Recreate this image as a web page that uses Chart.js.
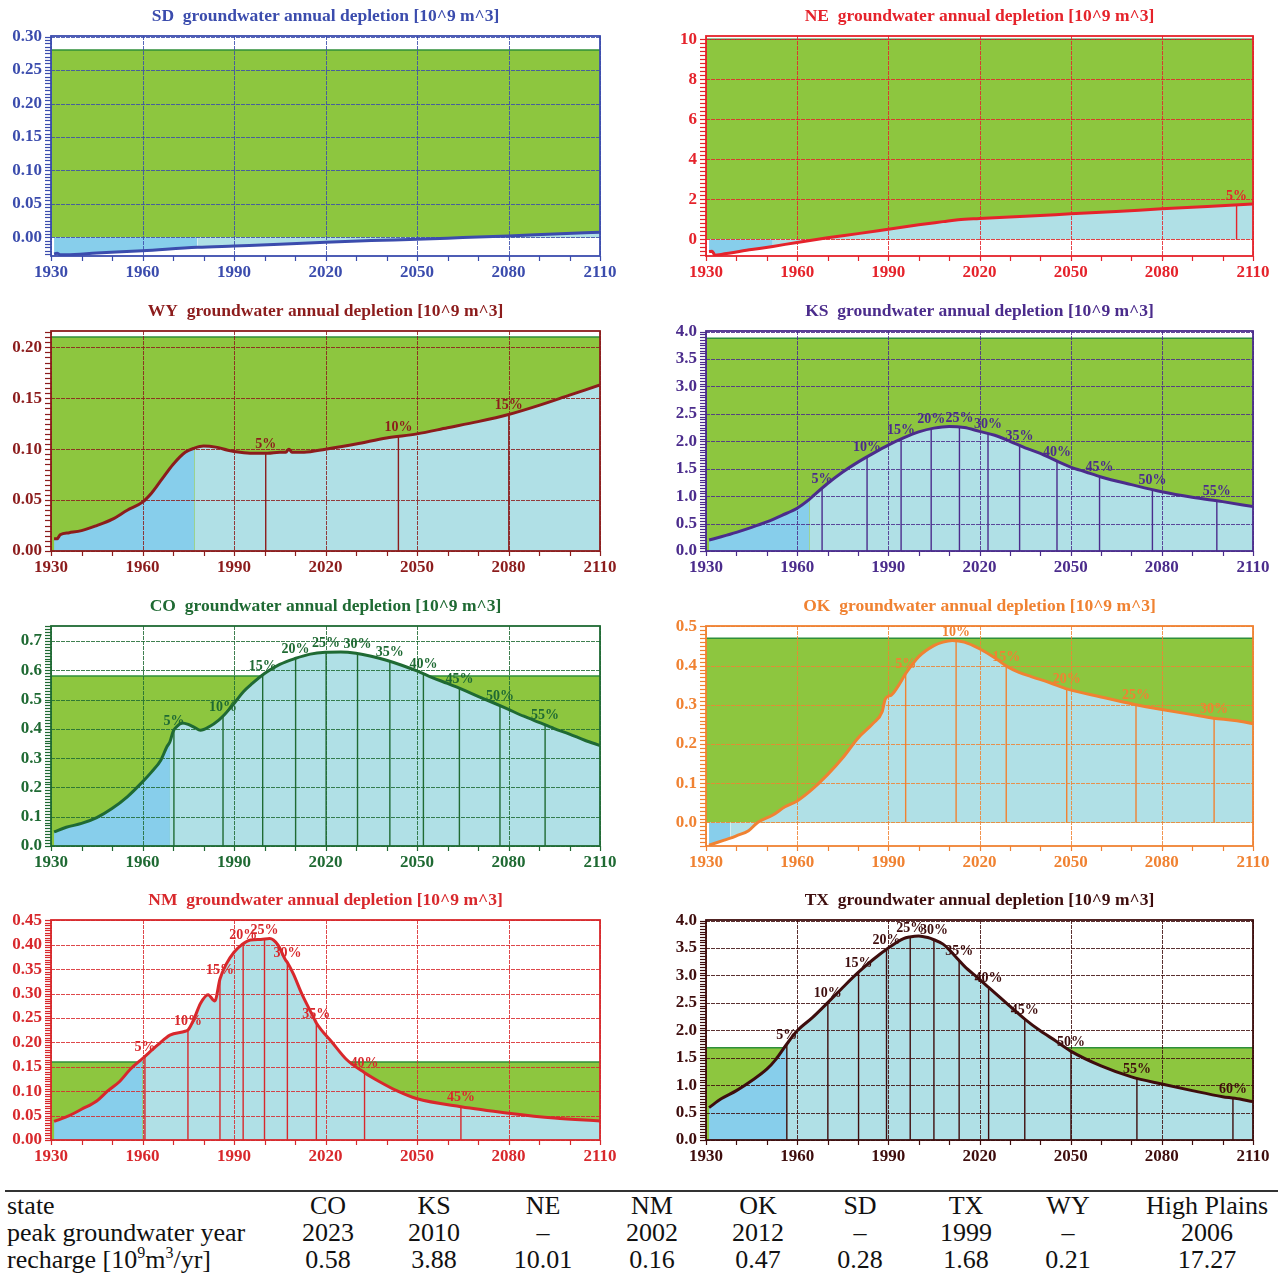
<!DOCTYPE html>
<html>
<head>
<meta charset="utf-8">
<script src="https://cdn.jsdelivr.net/npm/chart.js@4.4.0/dist/chart.umd.min.js"></script>
<style>
  body { margin: 0; background: #fff; width: 1285px; height: 1277px; position: relative; overflow: hidden; }
  canvas { position: absolute; }
  .rule { position: absolute; left: 5px; width: 1273px; top: 1190px; height: 2px; background: #333; }
  .cell { position: absolute; font: 26px 'Liberation Serif', serif; color: #111; white-space: nowrap; transform: translate(-50%, -50%); }
  .cell.first { transform: translate(0, -50%); }
  sup { font-size: 16px; vertical-align: 10px; line-height: 0; }
</style>
</head>
<body>
<div class="rule"></div>
<script>
// ---- data ----
const X_TICKS = [1930, 1960, 1990, 2020, 2050, 2080, 2110];

const TABLE_STATES = ['CO', 'KS', 'NE', 'NM', 'OK', 'SD', 'TX', 'WY', 'High Plains'];
const PEAK_YEARS = ['2023', '2010', '\u2013', '2002', '2012', '\u2013', '1999', '\u2013', '2006'];
const RECHARGE = [0.58, 3.88, 10.01, 0.16, 0.47, 0.28, 1.68, 0.21, 17.27];

const SD_YEARS  = [1931, 1932, 1933, 1935, 1945, 1960, 1978, 1990, 2005, 2020, 2035, 2050, 2065, 2080, 2095, 2110];
const SD_VALUES = [-0.025, -0.024, -0.026, -0.026, -0.0235, -0.020, -0.015, -0.013, -0.0105, -0.0075, -0.005, -0.003, -0.0005, 0.002, 0.0048, 0.0075];
const SD_PCT_YEARS = [];

const NE_YEARS  = [1931, 1932, 1933, 1935, 1945, 1952, 1960, 1970, 1980, 1990, 2000, 2008, 2013, 2020, 2035, 2050, 2065, 2080, 2095, 2110];
const NE_VALUES = [-0.62, -0.6, -0.8, -0.76, -0.52, -0.36, -0.16, 0.07, 0.28, 0.5, 0.72, 0.88, 0.98, 1.04, 1.15, 1.27, 1.39, 1.52, 1.64, 1.76];
const NE_PCT_YEARS = [2104.6];

const WY_YEARS  = [1931, 1932, 1933, 1936, 1940, 1945, 1950, 1955, 1960, 1963, 1966, 1970, 1974, 1977, 1980, 1984, 1988, 1992, 1996, 2001, 2005, 2007, 2008, 2009, 2013, 2020, 2030, 2040, 2050, 2060, 2070, 2080, 2090, 2100, 2110];
const WY_VALUES = [0.012, 0.012, 0.016, 0.018, 0.020, 0.025, 0.031, 0.040, 0.048, 0.057, 0.069, 0.085, 0.097, 0.101, 0.103, 0.102, 0.099, 0.097, 0.096, 0.096, 0.097, 0.097, 0.100, 0.097, 0.097, 0.100, 0.105, 0.111, 0.115, 0.121, 0.127, 0.134, 0.143, 0.153, 0.163];
const WY_PCT_YEARS = [2000.4, 2043.9, 2080.1];

const KS_YEARS  = [1931, 1935, 1940, 1945, 1950, 1955, 1960, 1964, 1965, 1970, 1975, 1980, 1985, 1990, 1995, 2000, 2005, 2010, 2015, 2020, 2025, 2030, 2035, 2040, 2045, 2050, 2055, 2060, 2070, 2080, 2090, 2100, 2110];
const KS_VALUES = [0.2, 0.26, 0.34, 0.43, 0.53, 0.65, 0.78, 0.94, 0.99, 1.23, 1.44, 1.62, 1.78, 1.93, 2.06, 2.17, 2.24, 2.27, 2.25, 2.18, 2.11, 2.0, 1.88, 1.78, 1.65, 1.53, 1.44, 1.35, 1.21, 1.08, 0.98, 0.9, 0.81];
const KS_PCT_YEARS = [1968.2, 1983.0, 1994.2, 2004.1, 2013.4, 2022.8, 2033.2, 2045.5, 2059.5, 2076.9, 2098.1];

const CO_YEARS  = [1931, 1935, 1940, 1945, 1950, 1955, 1960, 1963, 1966, 1968, 1969, 1970, 1971, 1972, 1973, 1975, 1977, 1979, 1982, 1985, 1987, 1990, 1993, 1996, 2000, 2005, 2010, 2015, 2020, 2025, 2030, 2035, 2040, 2045, 2050, 2055, 2060, 2065, 2070, 2075, 2080, 2085, 2090, 2095, 2100, 2105, 2110];
const CO_VALUES = [0.048, 0.064, 0.077, 0.097, 0.128, 0.168, 0.219, 0.253, 0.293, 0.339, 0.356, 0.39, 0.405, 0.415, 0.42, 0.415, 0.405, 0.395, 0.408, 0.43, 0.45, 0.486, 0.526, 0.555, 0.589, 0.62, 0.64, 0.655, 0.661, 0.662, 0.658, 0.648, 0.634, 0.617, 0.598, 0.575, 0.555, 0.534, 0.511, 0.489, 0.466, 0.443, 0.422, 0.401, 0.382, 0.361, 0.343];
const CO_PCT_YEARS = [1970.3, 1986.4, 1999.4, 2010.2, 2020.2, 2030.5, 2041.1, 2052.1, 2063.9, 2077.2, 2092.0];

const OK_YEARS  = [1931, 1936, 1938, 1940, 1944, 1947, 1952, 1956, 1960, 1965, 1970, 1975, 1980, 1985, 1988, 1989, 1991, 1993, 1996, 2000, 2005, 2008, 2011, 2015, 2020, 2025, 2029, 2033, 2037, 2043, 2049, 2060, 2071, 2080, 2090, 2097, 2104, 2110];
const OK_VALUES = [-0.058, -0.045, -0.04, -0.034, -0.021, 0.0, 0.019, 0.04, 0.055, 0.085, 0.122, 0.165, 0.215, 0.253, 0.283, 0.315, 0.325, 0.345, 0.383, 0.423, 0.451, 0.46, 0.464, 0.46, 0.443, 0.42, 0.398, 0.383, 0.372, 0.357, 0.34, 0.32, 0.301, 0.288, 0.275, 0.266, 0.26, 0.252];
const OK_PCT_YEARS = [1995.7, 2012.3, 2028.8, 2048.7, 2071.5, 2097.2];

const NM_YEARS  = [1931, 1936, 1940, 1945, 1948.5, 1952.5, 1956, 1960, 1965, 1969, 1974, 1975, 1977, 1979, 1981.5, 1983.7, 1985.4, 1987.4, 1990, 1992.5, 1995.4, 1998.8, 2001.7, 2004.4, 2006.8, 2007.6, 2009.5, 2012.2, 2016.2, 2017, 2022.2, 2026.9, 2032.8, 2037.6, 2043.7, 2049.8, 2064.4, 2080, 2095, 2110];
const NM_VALUES = [0.038, 0.05, 0.063, 0.08, 0.1, 0.12, 0.145, 0.167, 0.195, 0.215, 0.223, 0.226, 0.25, 0.28, 0.298, 0.285, 0.33, 0.36, 0.385, 0.4, 0.41, 0.411, 0.413, 0.40, 0.37, 0.363, 0.34, 0.30, 0.25, 0.24, 0.2, 0.165, 0.138, 0.12, 0.1, 0.085, 0.068, 0.055, 0.045, 0.039];
const NM_PCT_YEARS = [1960.8, 1974.9, 1985.4, 1993.0, 2000.0, 2007.5, 2017.0, 2032.8, 2064.4];

const TX_YEARS  = [1931, 1935, 1940, 1945, 1950, 1953, 1956.6, 1960, 1965, 1970, 1975, 1980, 1985, 1990, 1995, 1997, 2000, 2003, 2005, 2008, 2010, 2013, 2015, 2020, 2023, 2030, 2035, 2040, 2045, 2050, 2060, 2070, 2080, 2090, 2100, 2104, 2110];
const TX_VALUES = [0.59, 0.75, 0.9, 1.08, 1.29, 1.47, 1.75, 1.99, 2.23, 2.5, 2.78, 3.05, 3.29, 3.5, 3.67, 3.70, 3.72, 3.69, 3.65, 3.57, 3.47, 3.29, 3.17, 2.93, 2.78, 2.44, 2.2, 1.99, 1.81, 1.62, 1.35, 1.15, 1.02, 0.9, 0.79, 0.76, 0.7];
const TX_PCT_YEARS = [1956.6, 1970.1, 1980.2, 1989.4, 1997.2, 2005.0, 2013.3, 2023.0, 2034.9, 2050.1, 2071.8, 2103.4];

// last year of the darker (historical) blue fill
const HIST_END = { SD: 1978, NE: 1952, WY: 1977, KS: 1964, CO: 1969, OK: 1938, NM: 1960, TX: 1956.6 };

// ---- layout / styling ----
const GREEN = '#8dc63f', GREEN_EDGE = '#2f8f3a', DARK_BLUE = '#87ceeb', LIGHT_BLUE = '#b0e0e6';
const FONT = 'Liberation Serif';
const ROW_TOPS = [0, 295, 590, 884];

const PANELS = [
  { id: 'SD', col: 0, row: 0, color: '#3b4cad', years: SD_YEARS, values: SD_VALUES, pct: SD_PCT_YEARS, min: -0.028, max: 0.301, step: 0.05, minor: 0.005, dec: 2 },
  { id: 'NE', col: 1, row: 0, color: '#e5232b', years: NE_YEARS, values: NE_VALUES, pct: NE_PCT_YEARS, min: -0.84, max: 10.17, step: 2, minor: 0.2, dec: 0 },
  { id: 'WY', col: 0, row: 1, color: '#8c1c1c', years: WY_YEARS, values: WY_VALUES, pct: WY_PCT_YEARS, min: 0, max: 0.216, step: 0.05, minor: 0.005, dec: 2 },
  { id: 'KS', col: 1, row: 1, color: '#4b2c8c', years: KS_YEARS, values: KS_VALUES, pct: KS_PCT_YEARS, min: 0, max: 4.01, step: 0.5, minor: 0.05, dec: 1 },
  { id: 'CO', col: 0, row: 2, color: '#1f6a33', years: CO_YEARS, values: CO_VALUES, pct: CO_PCT_YEARS, min: 0, max: 0.751, step: 0.1, minor: 0.01, dec: 1 },
  { id: 'OK', col: 1, row: 2, color: '#f08232', years: OK_YEARS, values: OK_VALUES, pct: OK_PCT_YEARS, min: -0.06, max: 0.501, step: 0.1, minor: 0.01, dec: 1 },
  { id: 'NM', col: 0, row: 3, color: '#d8282c', years: NM_YEARS, values: NM_VALUES, pct: NM_PCT_YEARS, min: 0, max: 0.451, step: 0.05, minor: 0.005, dec: 2 },
  { id: 'TX', col: 1, row: 3, color: '#3e0d0d', years: TX_YEARS, values: TX_VALUES, pct: TX_PCT_YEARS, min: 0, max: 4.01, step: 0.5, minor: 0.05, dec: 1 }
];

function valueAt(xs, ys, x) {
  for (let i = 1; i < xs.length; i++) {
    if (x <= xs[i]) {
      const t = (x - xs[i - 1]) / (xs[i] - xs[i - 1]);
      return ys[i - 1] + t * (ys[i] - ys[i - 1]);
    }
  }
  return ys[ys.length - 1];
}

function tickList(min, max, step) {
  const out = [];
  for (let k = Math.ceil(min / step - 1e-9); k * step <= max + 1e-9; k++) out.push(+(k * step).toFixed(6));
  return out;
}

function isMultiple(v, step) {
  const r = v / step;
  return Math.abs(r - Math.round(r)) < 1e-6;
}

function alpha(hex, a) {
  const n = parseInt(hex.slice(1), 16);
  return 'rgba(' + (n >> 16) + ',' + ((n >> 8) & 255) + ',' + (n & 255) + ',' + a + ')';
}

// grid lines over the fills, tick ladders on both axes
const axesDecor = {
  id: 'axesDecor',
  afterDatasetsDraw(chart, args, opts) {
    const ctx = chart.ctx, a = chart.chartArea;
    const xs = chart.scales.x, ys = chart.scales.y;
    const seg = (x1, y1, x2, y2) => { ctx.beginPath(); ctx.moveTo(x1, y1); ctx.lineTo(x2, y2); ctx.stroke(); };
    ctx.save();
    ctx.lineWidth = 1;
    ctx.strokeStyle = opts.grid;
    ctx.setLineDash([4, 1]);
    xs.ticks.forEach(t => {
      if (!X_TICKS.includes(t.value)) return;
      const px = Math.round(xs.getPixelForValue(t.value)) + 0.5;
      seg(px, a.top, px, a.bottom);
    });
    ys.ticks.forEach(t => {
      if (!isMultiple(t.value, opts.step) || t.value < 0) return;
      const py = Math.round(ys.getPixelForValue(t.value)) + 0.5;
      seg(a.left, py, a.right, py);
    });
    ctx.setLineDash([]);
    ctx.strokeStyle = opts.color;
    ctx.lineWidth = 1.2;
    xs.ticks.forEach(t => {
      const px = Math.round(xs.getPixelForValue(t.value)) + 0.5;
      seg(px, a.bottom, px, a.bottom + 5);
    });
    ys.ticks.forEach(t => {
      const py = Math.round(ys.getPixelForValue(t.value)) + 0.5;
      seg(a.left - 6, py, a.left, py);
    });
    ctx.restore();
  }
};

// frame around the plot + percentage labels on top of the vertical lines
const overlay = {
  id: 'overlay',
  afterDraw(chart, args, opts) {
    const ctx = chart.ctx, a = chart.chartArea;
    ctx.save();
    ctx.strokeStyle = opts.color;
    ctx.lineWidth = 1.8;
    ctx.strokeRect(a.left, a.top, a.right - a.left, a.bottom - a.top);
    ctx.font = 'bold 14px "' + FONT + '"';
    ctx.fillStyle = opts.color;
    ctx.textAlign = 'center';
    ctx.textBaseline = 'bottom';
    chart.data.datasets.forEach((ds, i) => {
      if (!ds.pctLabel) return;
      const top = chart.getDatasetMeta(i).data[1];
      ctx.fillText(ds.pctLabel, top.x, top.y - 2);
    });
    ctx.restore();
  }
};

PANELS.forEach(p => {
  const canvas = document.createElement('canvas');
  canvas.width = 640;
  canvas.height = 295;
  canvas.style.left = (p.col ? 645 : 0) + 'px';
  canvas.style.top = ROW_TOPS[p.row] + 'px';
  document.body.appendChild(canvas);

  const recharge = RECHARGE[TABLE_STATES.indexOf(p.id)];
  const split = HIST_END[p.id];
  const pts = p.years.map((x, i) => ({ x: x, y: p.values[i] }));

  const datasets = [
    { data: pts, borderColor: p.color, borderWidth: 3, pointRadius: 0, fill: false,
      cubicInterpolationMode: 'monotone', order: 0 },
    ...p.pct.map((yr, i) => ({
      data: [{ x: yr, y: 0 }, { x: yr, y: valueAt(p.years, p.values, yr) }],
      borderColor: p.color, borderWidth: 1.4, pointRadius: 0, fill: false, order: 1,
      pctLabel: ((i + 1) * 5) + '%'
    })),
    { data: pts, borderWidth: 0, borderColor: 'rgba(0,0,0,0)', pointRadius: 0, fill: 'origin',
      cubicInterpolationMode: 'monotone', backgroundColor: LIGHT_BLUE, order: 2,
      segment: { backgroundColor: c => (c.p0.parsed.x < split ? DARK_BLUE : LIGHT_BLUE) } },
    { data: [{ x: 1930, y: recharge }, { x: 2110, y: recharge }], borderColor: GREEN_EDGE, borderWidth: 1.5,
      backgroundColor: GREEN, fill: 'origin', pointRadius: 0, order: 3 }
  ];

  const xTicks = tickList(1930, 2110, 10);
  const yTicks = tickList(p.min, p.max, p.minor);
  const tickFont = { family: FONT, size: 17, weight: 'bold' };
  const hidden = 'rgba(0,0,0,0)';

  new Chart(canvas, {
    type: 'line',
    data: { datasets: datasets },
    options: {
      responsive: false,
      animation: false,
      events: [],
      layout: { padding: { top: 0, right: p.col ? 32 : 40, bottom: 0, left: 0 } },
      plugins: {
        legend: { display: false },
        tooltip: { enabled: false },
        title: {
          display: true, fullSize: false, color: p.color,
          text: p.id + '  groundwater annual depletion [10^9 m^3]',
          font: { family: FONT, size: 17.5, weight: 'bold' },
          padding: { top: 6, bottom: 9 }
        },
        axesDecor: { color: p.color, grid: alpha(p.color, 0.85), step: p.step },
        overlay: { color: p.color }
      },
      scales: {
        x: {
          type: 'linear', min: 1930, max: 2110,
          afterBuildTicks: s => { s.ticks = xTicks.map(v => ({ value: v })); },
          afterFit: s => { s.height = 39; },
          ticks: {
            autoSkip: false, maxRotation: 0, padding: 2, color: p.color, font: tickFont,
            callback: v => (X_TICKS.includes(v) ? String(v) : '')
          },
          grid: { color: hidden, tickColor: hidden, tickLength: 4 },
          border: { display: false }
        },
        y: {
          type: 'linear', min: p.min, max: p.max,
          afterBuildTicks: s => { s.ticks = yTicks.map(v => ({ value: v })); },
          afterFit: s => { s.width = p.col ? 61 : 51; },
          ticks: {
            autoSkip: false, padding: 5, color: p.color, font: tickFont,
            callback: v => (isMultiple(v, p.step) && v >= 0 ? v.toFixed(p.dec) : '')
          },
          grid: { color: hidden, tickColor: hidden, tickLength: 4 },
          border: { display: false }
        }
      }
    },
    plugins: [axesDecor, overlay]
  });
});

// ---- summary table ----
const COL_X = [328, 434, 543, 652, 758, 860, 966, 1068, 1207];
const ROW_Y = [1206, 1233, 1260];
const ROW_HEAD = ['state', 'peak groundwater year', 'recharge [10<sup>9</sup>m<sup>3</sup>/yr]'];
const ROW_CELLS = [TABLE_STATES, PEAK_YEARS, RECHARGE.map(v => v.toFixed(2))];

function addCell(html, x, y, first) {
  const d = document.createElement('div');
  d.className = first ? 'cell first' : 'cell';
  d.style.left = x + 'px';
  d.style.top = y + 'px';
  d.innerHTML = html;
  document.body.appendChild(d);
}

ROW_HEAD.forEach((h, r) => {
  addCell(h, 7, ROW_Y[r], true);
  ROW_CELLS[r].forEach((t, c) => addCell(t, COL_X[c], ROW_Y[r], false));
});
</script>
</body>
</html>
